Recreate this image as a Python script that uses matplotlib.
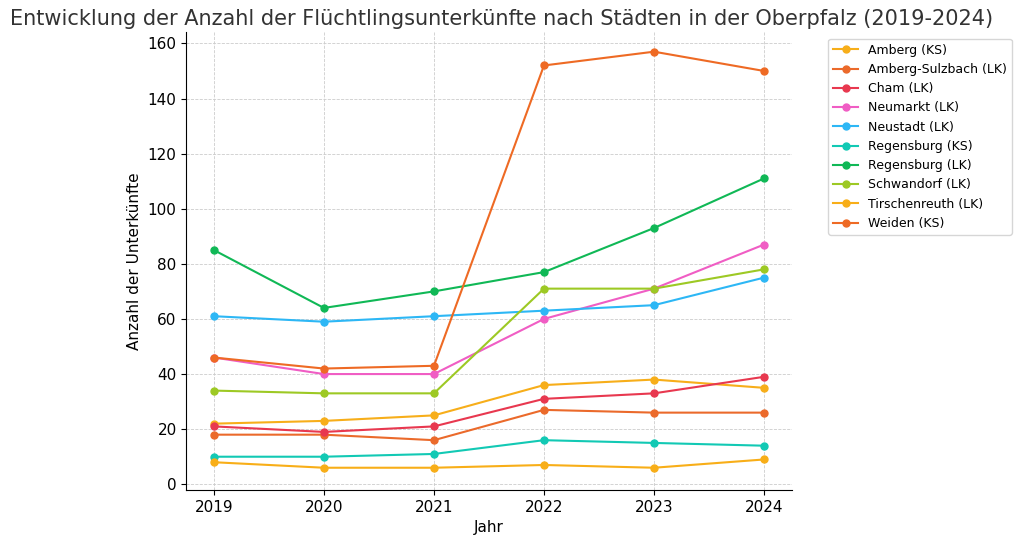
import matplotlib
matplotlib.use("Agg")
import matplotlib.pyplot as plt

years = [2019, 2020, 2021, 2022, 2023, 2024]

names = [
    "Amberg (KS)", "Amberg-Sulzbach (LK)", "Cham (LK)", "Neumarkt (LK)",
    "Neustadt (LK)", "Regensburg (KS)", "Regensburg (LK)", "Schwandorf (LK)",
    "Tirschenreuth (LK)", "Weiden (KS)",
]
amberg = [22, 23, 25, 36, 38, 35]
amberg_sulzbach = [18, 18, 16, 27, 26, 26]
cham = [21, 19, 21, 31, 33, 39]
neumarkt = [46, 40, 40, 60, 71, 87]
neustadt = [61, 59, 61, 63, 65, 75]
regensburg_ks = [10, 10, 11, 16, 15, 14]
regensburg_lk = [85, 64, 70, 77, 93, 111]
schwandorf = [34, 33, 33, 71, 71, 78]
tirschenreuth = [8, 6, 6, 7, 6, 9]
weiden = [46, 42, 43, 152, 157, 150]

series = [amberg, amberg_sulzbach, cham, neumarkt, neustadt, regensburg_ks,
          regensburg_lk, schwandorf, tirschenreuth, weiden]
colors = ["#F7AE1A", "#EB6A2B", "#E8384F", "#F05DC4", "#2DB7F5", "#12C9B4",
          "#10B856", "#9DC924", "#F8AE18", "#EE6A24"]

fig, ax = plt.subplots(figsize=(10.24, 5.4), dpi=100)
for name, vals, c in zip(names, series, colors):
    ax.plot(years, vals, marker="o", markersize=5, color=c, linewidth=1.5, label=name)

fig.text(0.01, 0.965, "Entwicklung der Anzahl der Flüchtlingsunterkünfte nach Städten in der Oberpfalz (2019-2024)",
         fontsize=15, color="#333333", ha="left", va="center")
ax.set_xlabel("Jahr", fontsize=11)
ax.set_ylabel("Anzahl der Unterkünfte", fontsize=11)
ax.set_xticks(years)
ax.set_ylim(-2, 164)
ax.set_yticks(range(0, 161, 20))
ax.tick_params(labelsize=11)
ax.grid(True, linestyle="--", linewidth=0.6, color="#cccccc")
ax.spines["top"].set_visible(False)
ax.spines["right"].set_visible(False)
ax.legend(loc="upper left", bbox_to_anchor=(1.05, 1.0), fontsize=9)
fig.subplots_adjust(left=0.182, right=0.773, top=0.94, bottom=0.093)
fig.savefig("out.png")
